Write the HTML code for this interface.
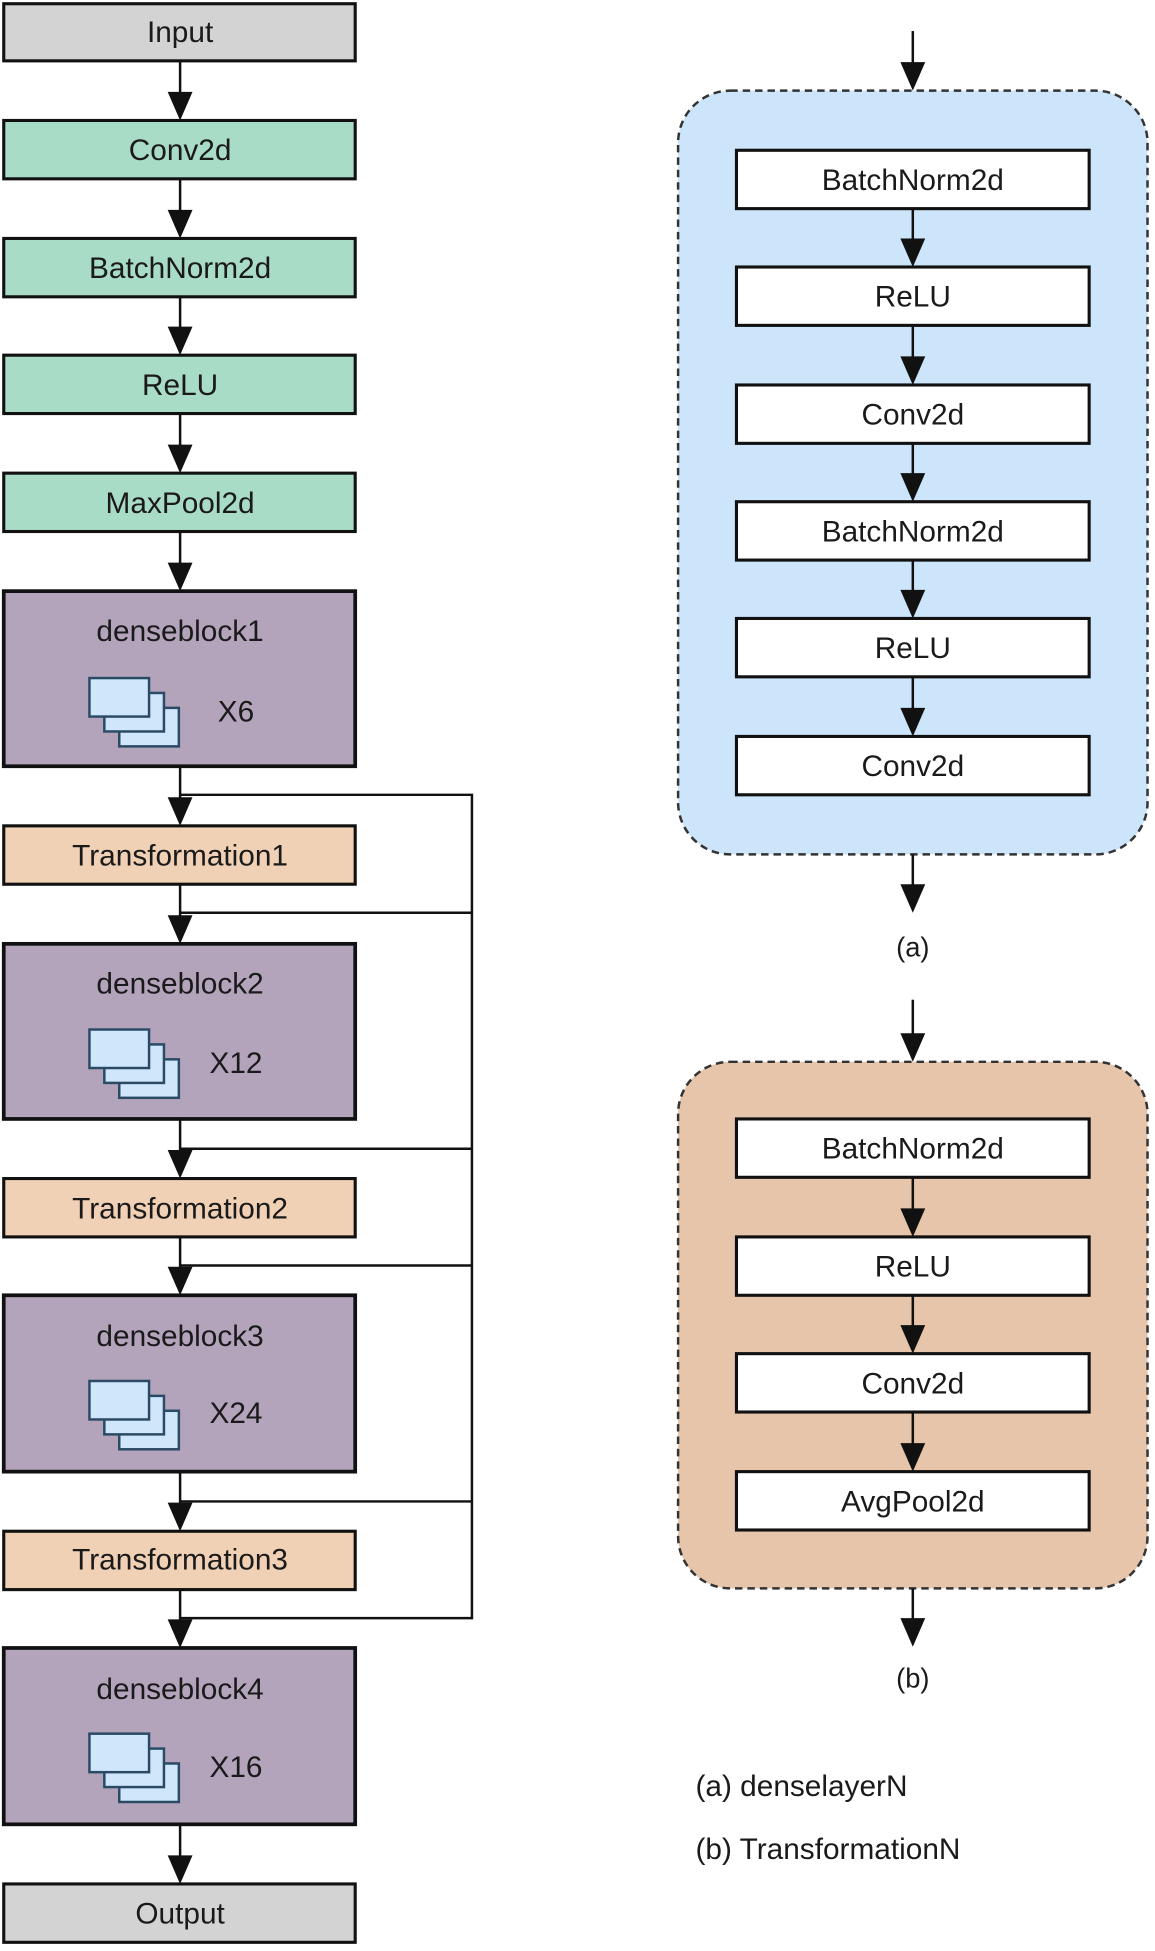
<!DOCTYPE html>
<html><head><meta charset="utf-8"><style>
html,body{margin:0;padding:0;background:#fff;}
svg{display:block;}
text{font-family:"Liberation Sans",sans-serif;font-size:24px;fill:#1a1a1a;text-anchor:middle;}
</style></head><body>
<svg width="1155" height="1951" viewBox="0 0 930 1571" xmlns="http://www.w3.org/2000/svg">
<defs>
<marker id="ah" markerWidth="10" markerHeight="10" refX="5" refY="9" orient="auto" markerUnits="userSpaceOnUse" viewBox="0 0 10 10">
</marker>
<g id="icon">
<rect x="24" y="24" width="48" height="31" fill="#cfe6fb" stroke="#2a4a66" stroke-width="2"/>
<rect x="12" y="12" width="48" height="31" fill="#cfe6fb" stroke="#2a4a66" stroke-width="2"/>
<rect x="0" y="0" width="48" height="31" fill="#cfe6fb" stroke="#2a4a66" stroke-width="2"/>
</g>
</defs>
<g stroke="#111" stroke-width="2.5">
<!-- left boxes -->
<rect x="3" y="3" width="283" height="46" fill="#d3d3d3"/>
<rect x="3" y="97" width="283" height="47" fill="#a9dcc6"/>
<rect x="3" y="192" width="283" height="47" fill="#a9dcc6"/>
<rect x="3" y="286" width="283" height="47" fill="#a9dcc6"/>
<rect x="3" y="381" width="283" height="47" fill="#a9dcc6"/>
<rect x="3" y="476" width="283" height="141" fill="#b3a4bc" stroke-width="3"/>
<rect x="3" y="665" width="283" height="47" fill="#f1d1b6"/>
<rect x="3" y="760" width="283" height="141" fill="#b3a4bc" stroke-width="3"/>
<rect x="3" y="949" width="283" height="47" fill="#f1d1b6"/>
<rect x="3" y="1043" width="283" height="142" fill="#b3a4bc" stroke-width="3"/>
<rect x="3" y="1233" width="283" height="47" fill="#f1d1b6"/>
<rect x="3" y="1327" width="283" height="142" fill="#b3a4bc" stroke-width="3"/>
<rect x="3" y="1517" width="283" height="47" fill="#d3d3d3"/>
<!-- bypass -->
<polyline fill="none" stroke-width="2" points="145,640 380,640 380,1303 145,1303"/>
<line x1="145" y1="735" x2="380" y2="735" stroke-width="2"/>
<line x1="145" y1="925" x2="380" y2="925" stroke-width="2"/>
<line x1="145" y1="1019" x2="380" y2="1019" stroke-width="2"/>
<line x1="145" y1="1209" x2="380" y2="1209" stroke-width="2"/>
</g>
<!-- left arrows -->
<g stroke="#111" stroke-width="2" fill="#111">
<line x1="145" y1="49" x2="145" y2="85"/><polygon stroke="none" points="135,74 155,74 145,97"/>
<line x1="145" y1="144" x2="145" y2="180"/><polygon stroke="none" points="135,169 155,169 145,192"/>
<line x1="145" y1="239" x2="145" y2="274"/><polygon stroke="none" points="135,263 155,263 145,286"/>
<line x1="145" y1="333" x2="145" y2="369"/><polygon stroke="none" points="135,358 155,358 145,381"/>
<line x1="145" y1="428" x2="145" y2="464"/><polygon stroke="none" points="135,453 155,453 145,476"/>
<line x1="145" y1="617" x2="145" y2="653"/><polygon stroke="none" points="135,642 155,642 145,665"/>
<line x1="145" y1="712" x2="145" y2="748"/><polygon stroke="none" points="135,737 155,737 145,760"/>
<line x1="145" y1="901" x2="145" y2="937"/><polygon stroke="none" points="135,926 155,926 145,949"/>
<line x1="145" y1="996" x2="145" y2="1031"/><polygon stroke="none" points="135,1020 155,1020 145,1043"/>
<line x1="145" y1="1185" x2="145" y2="1221"/><polygon stroke="none" points="135,1210 155,1210 145,1233"/>
<line x1="145" y1="1280" x2="145" y2="1315"/><polygon stroke="none" points="135,1304 155,1304 145,1327"/>
<line x1="145" y1="1469" x2="145" y2="1505"/><polygon stroke="none" points="135,1494 155,1494 145,1517"/>
</g>
<!-- icons -->
<use href="#icon" x="72" y="546"/>
<use href="#icon" x="72" y="829"/>
<use href="#icon" x="72" y="1112"/>
<use href="#icon" x="72" y="1396"/>
<!-- left text -->
<text x="145" y="34">Input</text>
<text x="145" y="129">Conv2d</text>
<text x="145" y="224">BatchNorm2d</text>
<text x="145" y="318">ReLU</text>
<text x="145" y="413">MaxPool2d</text>
<text x="145" y="516">denseblock1</text>
<text x="190" y="581">X6</text>
<text x="145" y="697">Transformation1</text>
<text x="145" y="800">denseblock2</text>
<text x="190" y="864">X12</text>
<text x="145" y="981">Transformation2</text>
<text x="145" y="1084">denseblock3</text>
<text x="190" y="1146">X24</text>
<text x="145" y="1264">Transformation3</text>
<text x="145" y="1368">denseblock4</text>
<text x="190" y="1431">X16</text>
<text x="145" y="1549">Output</text>
<!-- right containers -->
<rect x="546" y="73" width="378" height="615" rx="42" fill="#cce5fb" stroke="#333" stroke-width="2" stroke-dasharray="6,4"/>
<rect x="546" y="855" width="378" height="424" rx="42" fill="#e6c5ab" stroke="#333" stroke-width="2" stroke-dasharray="6,4"/>
<g stroke="#111" stroke-width="2.5" fill="#fff">
<rect x="593" y="121" width="284" height="47"/>
<rect x="593" y="215" width="284" height="47"/>
<rect x="593" y="310" width="284" height="47"/>
<rect x="593" y="404" width="284" height="47"/>
<rect x="593" y="498" width="284" height="47"/>
<rect x="593" y="593" width="284" height="47"/>
<rect x="593" y="901" width="284" height="47"/>
<rect x="593" y="996" width="284" height="47"/>
<rect x="593" y="1090" width="284" height="47"/>
<rect x="593" y="1185" width="284" height="47"/>
</g>
<g stroke="#111" stroke-width="2" fill="#111">
<line x1="735" y1="25" x2="735" y2="62"/><polygon stroke="none" points="725,50 745,50 735,73"/>
<line x1="735" y1="168" x2="735" y2="204"/><polygon stroke="none" points="725,192 745,192 735,215"/>
<line x1="735" y1="262" x2="735" y2="299"/><polygon stroke="none" points="725,287 745,287 735,310"/>
<line x1="735" y1="357" x2="735" y2="393"/><polygon stroke="none" points="725,381 745,381 735,404"/>
<line x1="735" y1="451" x2="735" y2="487"/><polygon stroke="none" points="725,475 745,475 735,498"/>
<line x1="735" y1="545" x2="735" y2="582"/><polygon stroke="none" points="725,570 745,570 735,593"/>
<line x1="735" y1="688" x2="735" y2="724"/><polygon stroke="none" points="725,712 745,712 735,735"/>
<line x1="735" y1="805" x2="735" y2="844"/><polygon stroke="none" points="725,832 745,832 735,855"/>
<line x1="735" y1="948" x2="735" y2="985"/><polygon stroke="none" points="725,973 745,973 735,996"/>
<line x1="735" y1="1043" x2="735" y2="1079"/><polygon stroke="none" points="725,1067 745,1067 735,1090"/>
<line x1="735" y1="1137" x2="735" y2="1174"/><polygon stroke="none" points="725,1162 745,1162 735,1185"/>
<line x1="735" y1="1279" x2="735" y2="1315"/><polygon stroke="none" points="725,1303 745,1303 735,1326"/>
</g>
<text x="735" y="153">BatchNorm2d</text>
<text x="735" y="247">ReLU</text>
<text x="735" y="342">Conv2d</text>
<text x="735" y="436">BatchNorm2d</text>
<text x="735" y="530">ReLU</text>
<text x="735" y="625">Conv2d</text>
<text x="735" y="770" style="font-size:22px">(a)</text>
<text x="735" y="933">BatchNorm2d</text>
<text x="735" y="1028">ReLU</text>
<text x="735" y="1122">Conv2d</text>
<text x="735" y="1217">AvgPool2d</text>
<text x="735" y="1359" style="font-size:22px">(b)</text>
<text x="560" y="1446" style="text-anchor:start">(a) denselayerN</text>
<text x="560" y="1497" style="text-anchor:start">(b) TransformationN</text>
</svg>
</body></html>
